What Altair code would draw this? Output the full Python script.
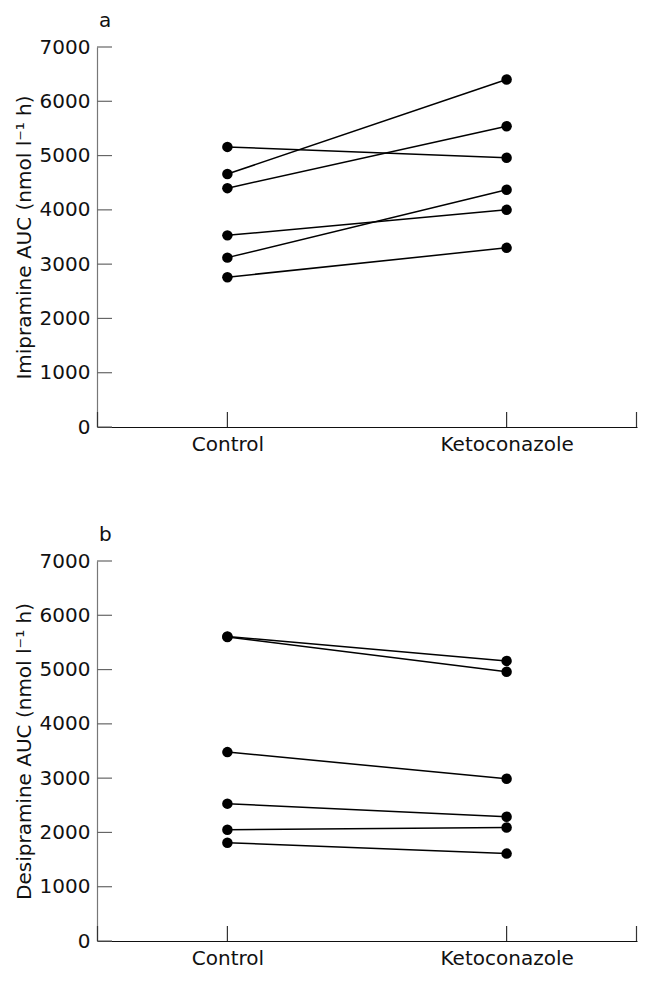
import altair as alt
import pandas as pd

subjects = ["S1", "S2", "S3", "S4", "S5", "S6"]
conditions = ["Control", "Ketoconazole"]
imipramine_control = [5160, 4660, 4400, 3530, 3120, 2760]
imipramine_keto = [4960, 6400, 5540, 4000, 4370, 3300]
desipramine_control = [5610, 5600, 3480, 2530, 2050, 1810]
desipramine_keto = [5160, 4960, 2990, 2290, 2090, 1610]
y_ticks = [0, 1000, 2000, 3000, 4000, 5000, 6000, 7000]

W, H = 540, 380
FONT = "DejaVu Sans"
FS = 20


def panel(ctrl, keto, ytitle, letter):
    df = pd.DataFrame({
        "subject": subjects * 2,
        "condition": ["Control"] * len(subjects) + ["Ketoconazole"] * len(subjects),
        "auc": ctrl + keto,
    })
    xscale = alt.Scale(type="point", domain=conditions, padding=0.467)
    yscale = alt.Scale(domain=[0, 7000], nice=False)
    x = alt.X("condition:N", scale=xscale,
              axis=alt.Axis(title=None, ticks=False, tickSize=0, domainColor="#111",
                            domainWidth=1.2, labelFont=FONT, labelFontSize=FS,
                            labelColor="#111", labelPadding=7, labelAngle=0))
    y = alt.Y("auc:Q", scale=yscale,
              axis=alt.Axis(title=ytitle, values=y_ticks, format="d", ticks=False, tickSize=0,
                            grid=False, domainColor="#777", domainWidth=1.2,
                            labelFont=FONT, labelFontSize=FS, labelColor="#111",
                            labelPadding=7, titleFont=FONT, titleFontSize=FS,
                            titleFontWeight="normal", titleColor="#111",
                            titlePadding=5))
    base = alt.Chart(df)
    lines = base.mark_line(color="black", strokeWidth=1.5).encode(x=x, y=y, detail="subject:N")
    pts = base.mark_circle(color="black", size=110, opacity=1).encode(x=x, y=y)

    ytick = alt.Chart(pd.DataFrame({"auc": y_ticks})).mark_rule(color="#666", strokeWidth=1.2).encode(
        y=alt.Y("auc:Q", scale=yscale), x=alt.value(0), x2=alt.value(15))
    xtick = alt.Chart(pd.DataFrame({"condition": conditions})).mark_rule(color="#333", strokeWidth=1.2).encode(
        x=alt.X("condition:N", scale=xscale), y=alt.value(H - 15), y2=alt.value(H))
    ends = alt.Chart(pd.DataFrame({"e": [0]})).mark_rule(color="#333", strokeWidth=1.2).encode(
        x=alt.value(0.5), y=alt.value(H - 15), y2=alt.value(H))
    ende = alt.Chart(pd.DataFrame({"e": [1]})).mark_rule(color="#333", strokeWidth=1.2).encode(
        x=alt.value(W - 0.5), y=alt.value(H - 15), y2=alt.value(H))

    return alt.layer(lines, pts, ytick, xtick, ends, ende).properties(
        width=W, height=H,
        title=alt.TitleParams(text=letter, anchor="start", frame="group", font=FONT,
                              fontSize=FS, fontWeight="normal", color="#111", offset=6, dx=2),
    )


top = panel(imipramine_control, imipramine_keto, "Imipramine AUC (nmol l⁻¹ h)", "a")
bottom = panel(desipramine_control, desipramine_keto, "Desipramine AUC (nmol l⁻¹ h)", "b")

chart = alt.vconcat(top, bottom, spacing=71).properties(
    padding={"left": 6, "top": 3, "right": 0, "bottom": 0}
).configure_view(stroke=None)

chart.save("out.html", embed_options={"renderer": "svg", "actions": False})
